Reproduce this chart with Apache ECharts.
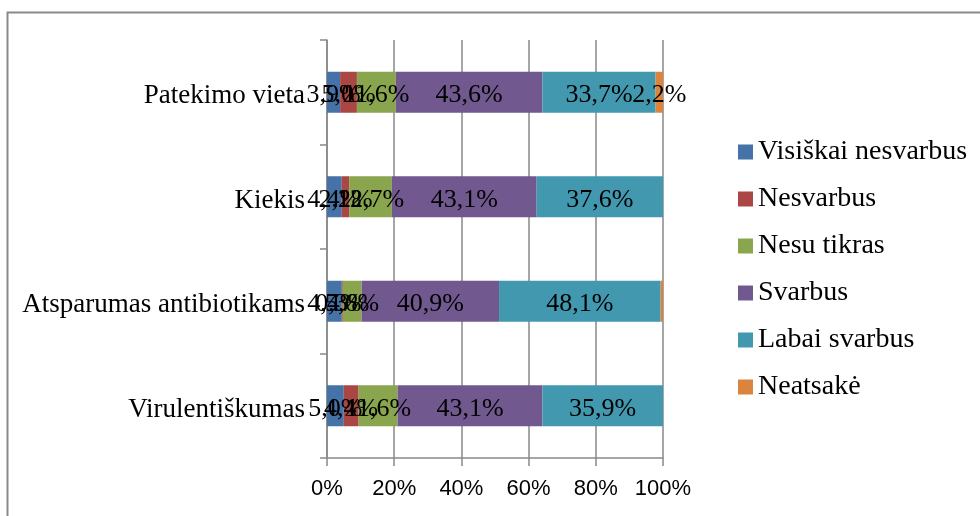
<!DOCTYPE html>
<html>
<head>
<meta charset="utf-8">
<script src="https://cdn.jsdelivr.net/npm/echarts@6/dist/echarts.min.js"></script>
<style>
  html, body { margin: 0; padding: 0; background: #fff; }
  #chart { width: 980px; height: 516px; }
</style>
</head>
<body>
<div id="chart"></div>
<script>
const categories = ['Patekimo vieta', 'Kiekis', 'Atsparumas antibiotikams', 'Virulentiškumas'];
const seriesNames = ['Visiškai nesvarbus', 'Nesvarbus', 'Nesu tikras', 'Svarbus', 'Labai svarbus', 'Neatsakė'];
const colors = ['#4572A7', '#AA4643', '#89A54E', '#71588F', '#4198AF', '#DB843D'];

const visiskaiNesvarbus = [3.9, 4.4, 4.4, 5.0];
const nesvarbus = [5.0, 2.2, 0.3, 4.4];
const nesuTikras = [11.6, 12.7, 5.6, 11.6];
const svarbus = [43.6, 43.1, 40.9, 43.1];
const labaiSvarbus = [33.7, 37.6, 48.1, 35.9];
const neatsake = [2.2, 0, 0.7, 0];
// the 0,7% label is not printed on the original
const neatsakeLabelShown = [true, false, false, false];

const xTicks = [0, 20, 40, 60, 80, 100];

const serif = '"Liberation Serif", "Times New Roman", serif';
const sans = '"Liberation Sans", Arial, sans-serif';
const gray = '#898989';

const seriesData = [visiskaiNesvarbus, nesvarbus, nesuTikras, svarbus, labaiSvarbus, neatsake];

const formatPct = (v) => v.toFixed(1).replace('.', ',') + '%';

const chart = echarts.init(document.getElementById('chart'));

chart.setOption({
  animation: false,
  color: colors,
  graphic: [
    {
      type: 'rect',
      shape: { x: 7.5, y: 12.5, width: 1200, height: 800 },
      style: { fill: 'none', stroke: gray, lineWidth: 2 },
      silent: true
    }
  ],
  legend: {
    orient: 'vertical',
    left: 733,
    top: 133,
    itemWidth: 15,
    itemHeight: 15,
    itemGap: 19,
    icon: 'rect',
    textStyle: { fontFamily: serif, fontSize: 28, color: '#000', lineHeight: 28 },
    data: seriesNames
  },
  grid: { left: 327, right: 317, top: 40, bottom: 58 },
  xAxis: {
    type: 'value',
    min: xTicks[0],
    max: xTicks[xTicks.length - 1],
    interval: 20,
    axisLine: { show: true, lineStyle: { color: gray, width: 1.5 } },
    axisTick: { show: true, length: 8, lineStyle: { color: gray, width: 1.5 } },
    splitLine: { show: true, lineStyle: { color: gray, width: 1.5 } },
    axisLabel: {
      formatter: '{value}%',
      fontFamily: sans,
      fontSize: 22,
      color: '#000',
      margin: 20
    }
  },
  yAxis: {
    type: 'category',
    inverse: true,
    data: categories,
    axisLine: { show: true, lineStyle: { color: gray, width: 1.5 } },
    axisTick: { show: true, length: 7, lineStyle: { color: gray, width: 1.5 } },
    axisLabel: {
      margin: 22,
      formatter: (v) => `{cat|${v}}`,
      rich: {
        cat: {
          fontFamily: serif,
          fontSize: 27,
          color: '#000',
          padding: [8, 0, 0, 0]
        }
      }
    }
  },
  series: seriesNames.map((name, i) => ({
    name,
    type: 'bar',
    stack: 'total',
    barWidth: 41,
    data: seriesData[i].map((v, j) => {
      if (v === 0) return null;
      if (i === 5 && !neatsakeLabelShown[j]) return { value: v, label: { show: false } };
      return v;
    }),
    label: {
      show: true,
      position: 'inside',
      offset: [0, 3],
      formatter: (p) => formatPct(p.value),
      fontFamily: serif,
      fontSize: 26,
      color: '#000',
      textBorderWidth: 0
    }
  }))
});
</script>
</body>
</html>
